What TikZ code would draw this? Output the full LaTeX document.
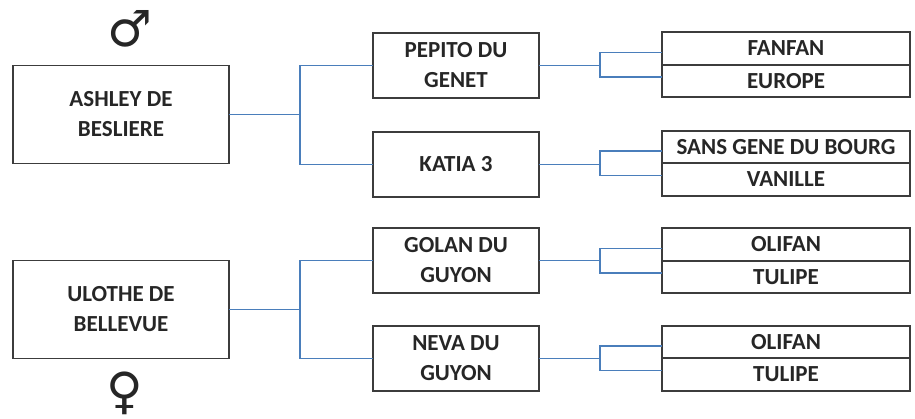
\documentclass[tikz,border=0pt]{standalone}
\usepackage{fontspec}
\setmainfont{Carlito}
\newfontfamily\symbfont{DejaVu Sans}
\usepackage{tikz}
\usetikzlibrary{positioning, calc}
\definecolor{linkblue}{HTML}{4A7EBB}
\definecolor{boxgray}{HTML}{3C3C3C}

\begin{document}
\begin{tikzpicture}[x=1pt, y=1pt,
    horse/.style={draw=boxgray, line width=1.6pt, outer sep=0pt, align=center,
                  text=black!85, font=\bfseries\fontsize{23}{30}\selectfont},
    sirebox/.style={horse, minimum width=216pt, minimum height=98pt},
    parbox/.style={horse, minimum width=166pt, minimum height=65pt},
    cell/.style={horse, minimum width=248pt, minimum height=32.5pt, inner sep=1pt},
    sexsym/.style={font=\symbfont\fontsize{50}{50}\selectfont, text=black!85},
    link/.style={draw=linkblue, line width=1.8pt}
]
\useasboundingbox (0,0) rectangle (915,-419);

% the two horses
\node[sirebox] (ashley) at (121,-114.5) {ASHLEY DE\\BESLIERE};
\node[sirebox] (ulothe) at (121,-309.5) {ULOTHE DE\\BELLEVUE};
\node[sexsym] (male) at (130,-29) {♂};
\node[sexsym] (female) at (125,-393) {♀};

% parents
\node[parbox] (pepito) at (456,-65.5) {PEPITO DU\\GENET};
\node[parbox] (katia) at (456,-164.5) {KATIA 3};
\node[parbox] (golan) at (456,-260.5) {GOLAN DU\\GUYON};
\node[parbox] (neva) at (456,-358.5) {NEVA DU\\GUYON};

% grandparents
\node[cell] (fanfan) at (786,-48.5) {FANFAN};
\node[cell, below=0pt of fanfan] (europe) {EUROPE};
\node[cell] (sansgene) at (786,-147) {SANS GENE DU BOURG};
\node[cell, below=0pt of sansgene] (vanille) {VANILLE};
\node[cell] (olifanA) at (786,-244.5) {OLIFAN};
\node[cell, below=0pt of olifanA] (tulipeA) {TULIPE};
\node[cell] (olifanB) at (786,-342) {OLIFAN};
\node[cell, below=0pt of olifanB] (tulipeB) {TULIPE};

% links to the parents
\draw[link] (ashley.east) -- ++(71,0) coordinate (ja);
\draw[link] (ja) |- (pepito.west);
\draw[link] (ja) |- (katia.west);
\draw[link] (ulothe.east) -- ++(71,0) coordinate (ju);
\draw[link] (ju) |- (golan.west);
\draw[link] (ju) |- (neva.west);

% links to the grandparents
\draw[link] (pepito.east) -- ++(61,0) coordinate (jp);
\draw[link] (jp) |- ([yshift=-4pt]fanfan.west);
\draw[link] (jp) |- ([yshift=4pt]europe.west);
\draw[link] (katia.east) -- ++(61,0) coordinate (jk);
\draw[link] (jk) |- ([yshift=-4pt]sansgene.west);
\draw[link] (jk) |- ([yshift=4pt]vanille.west);
\draw[link] (golan.east) -- ++(61,0) coordinate (jg);
\draw[link] (jg) |- ([yshift=-4pt]olifanA.west);
\draw[link] (jg) |- ([yshift=4pt]tulipeA.west);
\draw[link] (neva.east) -- ++(61,0) coordinate (jn);
\draw[link] (jn) |- ([yshift=-4pt]olifanB.west);
\draw[link] (jn) |- ([yshift=4pt]tulipeB.west);
\end{tikzpicture}
\end{document}
